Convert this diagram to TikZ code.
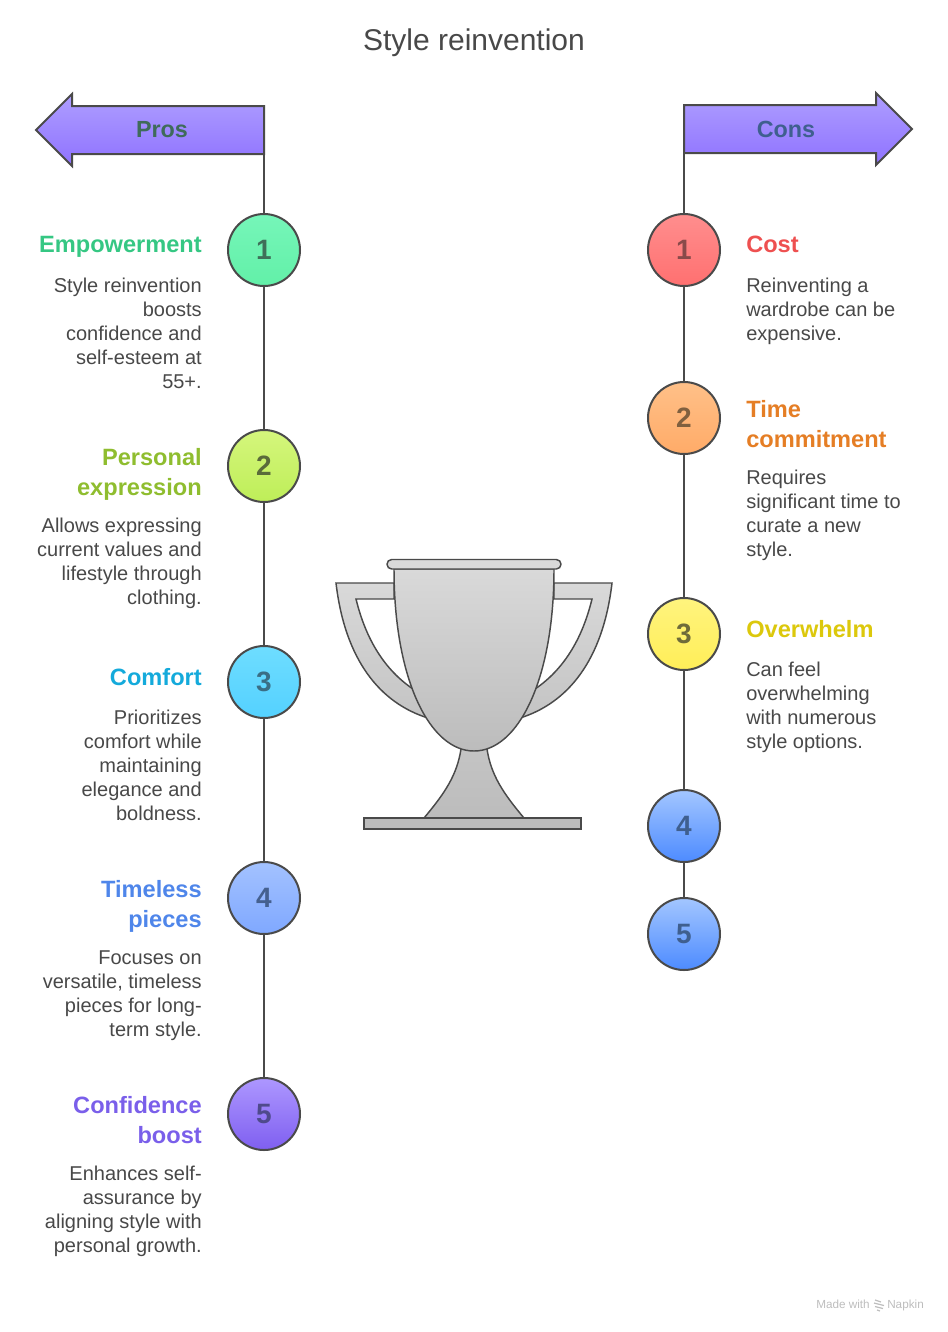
\documentclass[tikz,border=0pt]{standalone}
\usepackage{fontspec}
\setmainfont{Liberation Sans}
\usepackage{xcolor}
\definecolor{InkGray}    {HTML}{4A4A4A}
\definecolor{TextGray}   {HTML}{484848}
\definecolor{MarkGray}   {HTML}{BDBDBD}
\definecolor{TrophyTop}  {HTML}{D9D9D9}
\definecolor{TrophyMid}  {HTML}{C4C4C4}
\definecolor{TrophyLow}  {HTML}{BCBCBC}
\definecolor{FlagTop}    {HTML}{AE9EFF}
\definecolor{FlagLow}    {HTML}{8F72FF}
\definecolor{ProsInk}    {HTML}{3F6B5A}
\definecolor{ConsInk}    {HTML}{3F5F8F}
\definecolor{EmpowerHead}{HTML}{35C783}
\definecolor{PersonHead} {HTML}{8FBD2F}
\definecolor{ComfortHead}{HTML}{14AADB}
\definecolor{TimelessHead}{HTML}{4F86EA}
\definecolor{BoostHead}  {HTML}{7A5FEA}
\definecolor{CostHead}   {HTML}{EE5050}
\definecolor{TimeHead}   {HTML}{E57E25}
\definecolor{WhelmHead}  {HTML}{DCC80C}
\definecolor{MintTop}    {HTML}{76F6B9}
\definecolor{MintLow}    {HTML}{62F0A8}
\definecolor{MintInk}    {HTML}{3F7059}
\definecolor{LimeTop}    {HTML}{D5F67C}
\definecolor{LimeLow}    {HTML}{BEEE58}
\definecolor{LimeInk}    {HTML}{5A6B3A}
\definecolor{SkyTop}     {HTML}{6EDDFF}
\definecolor{SkyLow}     {HTML}{54D1FF}
\definecolor{SkyInk}     {HTML}{3A6E85}
\definecolor{BlueTop}    {HTML}{A3C2FF}
\definecolor{BlueLow}    {HTML}{7FA8FF}
\definecolor{BlueInk}    {HTML}{45608F}
\definecolor{VioletTop}  {HTML}{AD97FF}
\definecolor{VioletLow}  {HTML}{7F5FF0}
\definecolor{VioletInk}  {HTML}{4F4A8C}
\definecolor{RedTop}     {HTML}{FF8E8E}
\definecolor{RedLow}     {HTML}{FF7070}
\definecolor{RedInk}     {HTML}{8A4A4A}
\definecolor{PeachTop}   {HTML}{FFC088}
\definecolor{PeachLow}   {HTML}{FFAB68}
\definecolor{PeachInk}   {HTML}{80603F}
\definecolor{LemonTop}   {HTML}{FFF47E}
\definecolor{LemonLow}   {HTML}{FFEE58}
\definecolor{LemonInk}   {HTML}{6F6B3A}
\definecolor{DeepTop}    {HTML}{A3C6FF}
\definecolor{DeepLow}    {HTML}{4D8BFF}
\definecolor{DeepInk}    {HTML}{3F5F8F}
\tikzset{
  spine/.style={line width=1.5pt,color=InkGray},
  flag/.style={line width=1.5pt,draw=InkGray,top color=FlagTop,bottom color=FlagLow},
  flagtxt/.style={font=\fontsize{17.5}{22}\selectfont\bfseries\color{#1}},
  dot/.style={circle,draw=InkGray,line width=1.5pt,minimum size=54pt,inner sep=0pt,
               top color=#1Top,bottom color=#1Low,
               font=\fontsize{21}{24}\selectfont\bfseries\color{#1Ink}},
  headL/.style={anchor=north east,inner sep=0pt,align=right,
               font=\fontsize{17.7}{22.5}\selectfont\bfseries\color{#1}},
  headR/.style={anchor=north west,inner sep=0pt,align=left,
               font=\fontsize{17.7}{22.5}\selectfont\bfseries\color{#1}},
  bodyL/.style={anchor=north east,inner sep=0pt,align=right,
               font=\fontsize{15}{18}\selectfont\color{TextGray}},
  bodyR/.style={anchor=north west,inner sep=0pt,align=left,
               font=\fontsize{15}{18}\selectfont\color{TextGray}},
  cup/.style={line width=1.1pt,draw=InkGray,top color=TrophyTop,bottom color=#1},
  cup/.default=TrophyLow,
  markup/.style={inner sep=0pt,font=\fontsize{8.8}{10}\selectfont\color{MarkGray}},
}
\begin{document}
\begin{tikzpicture}[x=0.75pt,y=-0.75pt]
  \useasboundingbox (0,0) rectangle (948,1332);

  \node[font=\fontsize{22.5}{27}\selectfont\color{TextGray}] (title) at (474,43) {Style reinvention};

  % flags
  \draw[flag] (264,106) -- (72,106) -- (72,94) -- (36,130) -- (72,166) -- (72,154) -- (264,154) -- cycle;
  \draw[flag] (684,105) -- (876,105) -- (876,93) -- (912,129) -- (876,165) -- (876,153) -- (684,153) -- cycle;
  \node[flagtxt=ProsInk] (pros) at (162,130) {Pros};
  \node[flagtxt=ConsInk] (cons) at (786,129) {Cons};
  \coordinate (prosfoot) at (264,154);
  \coordinate (consfoot) at (684,153);

  % pros column
  \node[dot=Mint] (P1) at (264,250) {1};
  \node[dot=Lime] (P2) at (264,466) {2};
  \node[dot=Sky] (P3) at (264,682) {3};
  \node[dot=Blue] (P4) at (264,898) {4};
  \node[dot=Violet] (P5) at (264,1114) {5};

  \draw[spine] (prosfoot) -- (P1);
  \draw[spine] (P1) -- (P2);
  \draw[spine] (P2) -- (P3);
  \draw[spine] (P3) -- (P4);
  \draw[spine] (P4) -- (P5);

  \node[headL=EmpowerHead] (h1) at (202,236) {Empowerment};
  \node[bodyL] (b1) at (202,278) {Style reinvention\\boosts\\confidence and\\self-esteem at\\55+.};
  \node[headL=PersonHead] (h2) at (202,448) {Personal\\expression};
  \node[bodyL] (b2) at (202,518) {Allows expressing\\current values and\\lifestyle through\\clothing.};
  \node[headL=ComfortHead] (h3) at (202,668) {Comfort};
  \node[bodyL] (b3) at (202,710) {Prioritizes\\comfort while\\maintaining\\elegance and\\boldness.};
  \node[headL=TimelessHead] (h4) at (202,880) {Timeless\\pieces};
  \node[bodyL] (b4) at (202,950) {Focuses on\\versatile, timeless\\pieces for long-\\term style.};
  \node[headL=BoostHead] (h5) at (202,1096) {Confidence\\boost};
  \node[bodyL] (b5) at (202,1166) {Enhances self-\\assurance by\\aligning style with\\personal growth.};

  % cons column
  \node[dot=Red] (C1) at (684,250) {1};
  \node[dot=Peach] (C2) at (684,418) {2};
  \node[dot=Lemon] (C3) at (684,634) {3};
  \node[dot=Deep] (C4) at (684,826) {4};
  \node[dot=Deep] (C5) at (684,934) {5};

  \draw[spine] (consfoot) -- (C1);
  \draw[spine] (C1) -- (C2);
  \draw[spine] (C2) -- (C3);
  \draw[spine] (C3) -- (C4);
  \draw[spine] (C4) -- (C5);

  \node[headR=CostHead] (k1) at (746,236) {Cost};
  \node[bodyR] (d1) at (746,278) {Reinventing a\\wardrobe can be\\expensive.};
  \node[headR=TimeHead] (k2) at (746,400) {Time\\commitment};
  \node[bodyR] (d2) at (746,470) {Requires\\significant time to\\curate a new\\style.};
  \node[headR=WhelmHead] (k3) at (746,620) {Overwhelm};
  \node[bodyR] (d3) at (746,662) {Can feel\\overwhelming\\with numerous\\style options.};

  % trophy
  \draw[cup=TrophyMid] (394,583) -- (336,583) .. controls (345,660) and (380,703) .. (428,718)
     -- (413,689) .. controls (385,670) and (366,640) .. (356,599) -- (394,599) -- cycle;
  \draw[cup=TrophyMid] (554,583) -- (612,583) .. controls (603,660) and (568,703) .. (520,718)
     -- (535,689) .. controls (563,670) and (582,640) .. (592,599) -- (554,599) -- cycle;
  \draw[line width=1.1pt,draw=InkGray,top color=TrophyMid,bottom color=TrophyLow]
     (461,749) .. controls (457,775) and (445,793) .. (424,818)
     -- (524,818) .. controls (503,793) and (491,775) .. (487,749) -- cycle;
  \draw[cup] (394,569) .. controls (394,680) and (430,751) .. (474,751)
     .. controls (518,751) and (554,680) .. (554,569) -- cycle;
  \draw[line width=1.1pt,draw=InkGray,fill=TrophyTop,rounded corners=3.5pt] (387,559.5) rectangle (561,569);
  \draw[line width=1.1pt,draw=InkGray,fill=TrophyLow] (364,818) rectangle (581,829);

  % watermark
  \node[markup,anchor=base east] (made) at (870,1308) {Made with};
  \node[markup,anchor=base west] (napkin) at (887,1308) {Napkin};
  \draw[MarkGray,line width=0.9pt] (875,1300) -- (881,1302) (874,1303) -- (884,1305.5) (875,1306.5) -- (883,1308.5) (877,1310) -- (880,1311);
\end{tikzpicture}
\end{document}
